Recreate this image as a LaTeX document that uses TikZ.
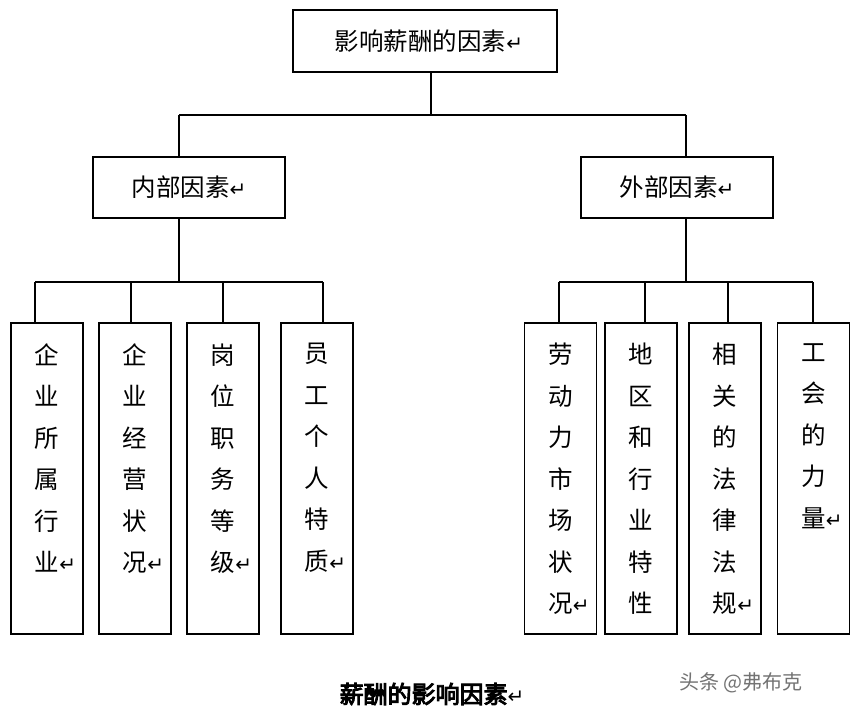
\documentclass[tikz,border=0pt]{standalone}
\usepackage{fontspec}
\setmainfont{Noto Sans CJK SC}
\newfontfamily\cjkbold{Noto Sans CJK SC}[FakeBold=4]
\newfontfamily\symfont{DejaVu Sans}
\newcommand\retmark{{\symfont\fontsize{20}{20}\selectfont ↵}}
\begin{document}
\begin{tikzpicture}[x=1pt,y=-1pt,
  box/.style={draw,line width=1.6pt,inner sep=0pt,font=\fontsize{24.5}{24.5}\selectfont},
  leaf/.style={draw,line width=1.6pt,minimum width=72pt,minimum height=311pt,inner sep=0pt},
  vtext/.style={anchor=north,align=center,inner sep=0pt,font=\fontsize{24.5}{41.5}\selectfont},
  conn/.style={line width=1.6pt}]
\useasboundingbox[fill=white] (0,0) rectangle (854,714);
% top level
\node[box,minimum width=264pt,minimum height=62pt] (top) at (425,41) {\hspace{8pt}影响薪酬的因素\retmark};
\node[box,minimum width=192pt,minimum height=61pt] (in) at (189,187.5) {内部因素\retmark};
\node[box,minimum width=192pt,minimum height=61pt] (ex) at (677,187.5) {外部因素\retmark};
% leaves
\node[leaf] (l1) at (47,478.5) {};
\node[leaf] (l2) at (135,478.5) {};
\node[leaf] (l3) at (223,478.5) {};
\node[leaf] (l4) at (317,478.5) {};
\node[leaf] (r1) at (560.5,478.5) {};
\node[leaf] (r2) at (641,478.5) {};
\node[leaf] (r3) at (725,478.5) {};
\node[leaf] (r4) at (813.5,478.5) {};
\node[vtext] (t1) at ([yshift=-21pt]l1.north) {企\\业\\所\\属\\行\\业\rlap{\retmark}};
\node[vtext] (t2) at ([yshift=-21pt]l2.north) {企\\业\\经\\营\\状\\况\rlap{\retmark}};
\node[vtext] (t3) at ([yshift=-21pt]l3.north) {岗\\位\\职\\务\\等\\级\rlap{\retmark}};
\node[vtext] (t4) at ([yshift=-21pt]l4.north) {员\\工\\个\\人\\特\\质\rlap{\retmark}};
\node[vtext] (u1) at ([yshift=-21pt]r1.north) {劳\\动\\力\\市\\场\\状\\况\rlap{\retmark}};
\node[vtext] (u2) at ([yshift=-21pt]r2.north) {地\\区\\和\\行\\业\\特\\性};
\node[vtext] (u3) at ([yshift=-21pt]r3.north) {相\\关\\的\\法\\律\\法\\规\rlap{\retmark}};
\node[vtext] (u4) at ([yshift=-21pt]r4.north) {工\\会\\的\\力\\量\rlap{\retmark}};
% junction coordinates
\coordinate (j0) at (431,115);
\coordinate (jl) at (179,115);
\coordinate (jr) at (686,115);
\coordinate (s1) at (35,282);
\coordinate (s2) at (131,282);
\coordinate (s3) at (223,282);
\coordinate (s4) at (323,282);
\coordinate (s5) at (559,282);
\coordinate (s6) at (645,282);
\coordinate (s7) at (728,282);
\coordinate (s8) at (813,282);
% connectors
\draw[conn] (top.south -| j0) -- (j0);
\draw[conn] (jl) -- (jr);
\draw[conn] (jl) -- (jl |- in.north);
\draw[conn] (jr) -- (jr |- ex.north);
\draw[conn] (jl |- in.south) -- (jl |- s1);
\draw[conn] (jr |- ex.south) -- (jr |- s5);
\draw[conn] (s1) -- (s4);
\draw[conn] (s5) -- (s8);
\draw[conn] (s1) -- (s1 |- l1.north);
\draw[conn] (s2) -- (s2 |- l2.north);
\draw[conn] (s3) -- (s3 |- l3.north);
\draw[conn] (s4) -- (s4 |- l4.north);
\draw[conn] (s5) -- (s5 |- r1.north);
\draw[conn] (s6) -- (s6 |- r2.north);
\draw[conn] (s7) -- (s7 |- r3.north);
\draw[conn] (s8) -- (s8 |- r4.north);
% caption and watermark
\node[inner sep=0pt,font=\cjkbold\fontsize{24}{24}\selectfont] (cap) at (432,694) {薪酬的影响因素\retmark};
\node[inner sep=0pt,text=black!55,font=\fontsize{20}{20}\selectfont] (wm) at (741,683) {头条 @弗布克};
\end{tikzpicture}
\end{document}
